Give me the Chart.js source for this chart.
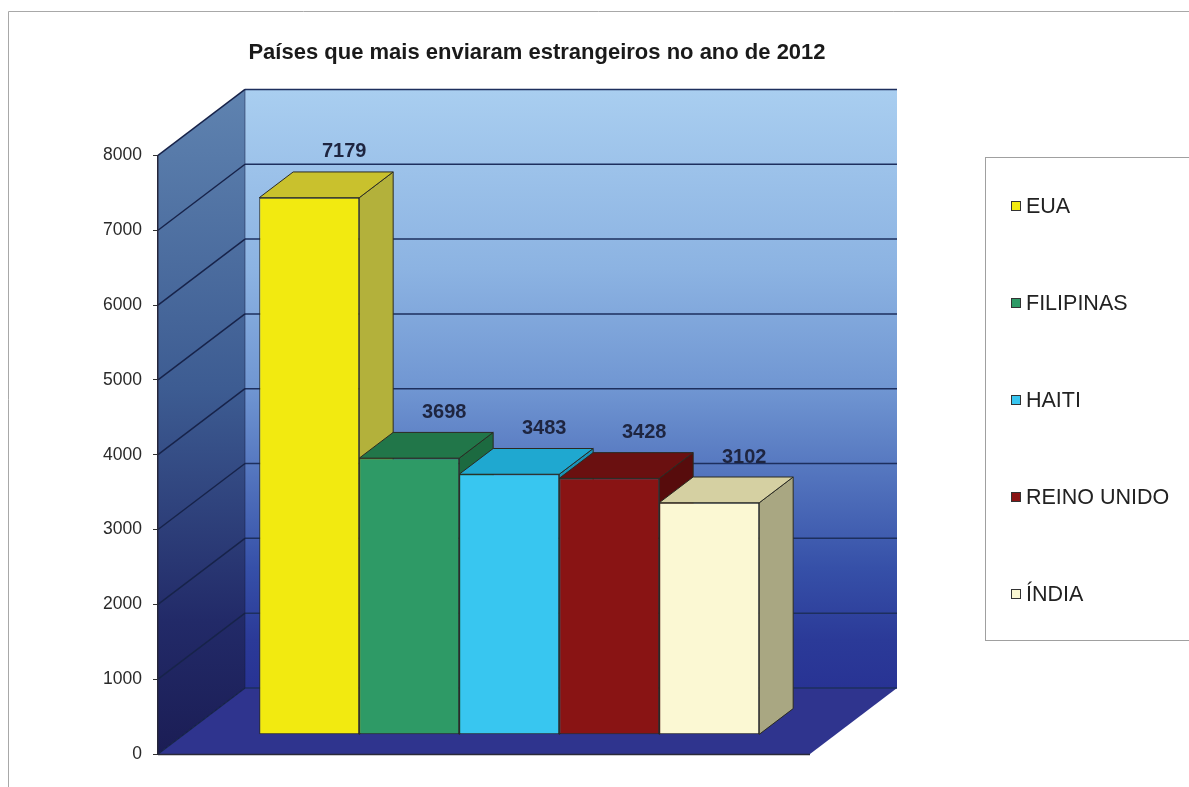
<!DOCTYPE html>
<html>
<head>
<meta charset="utf-8">
<style>
  body { margin: 0; background: #fff; }
  #wrap { width: 1189px; height: 787px; }
</style>
</head>
<body>
<div id="wrap"><canvas id="chart" width="1189" height="787"></canvas></div>
<script src="https://cdn.jsdelivr.net/npm/chart.js"></script>
<script>
const titleText = 'Países que mais enviaram estrangeiros no ano de 2012';
const countries = ['EUA', 'FILIPINAS', 'HAITI', 'REINO UNIDO', 'ÍNDIA'];
const values = [7179, 3698, 3483, 3428, 3102];
const frontColors = ['#f2ea10', '#2e9a66', '#38c6f0', '#891414', '#fbf8d3'];
const topColors = ['#c9c12d', '#217649', '#1fa8d0', '#6a1010', '#d5d0a2'];
const sideColors = ['#b3b13b', '#1c6a40', '#1a93b8', '#570c0c', '#a9a782'];
const yMin = 0, yMax = 8000, yStep = 1000;

// 3d look: how far the back wall is pushed, and where the bars sit in depth
const WALL = { dx: 87, dy: -66 };
const BAR_FRONT = 0.29, BAR_BACK = 0.68;
const FONT = "'Liberation Sans', Arial, sans-serif";

function poly(ctx, pts, fill, stroke) {
  ctx.beginPath();
  ctx.moveTo(pts[0][0], pts[0][1]);
  for (let i = 1; i < pts.length; i++) ctx.lineTo(pts[i][0], pts[i][1]);
  ctx.closePath();
  if (fill) { ctx.fillStyle = fill; ctx.fill(); }
  if (stroke) { ctx.strokeStyle = stroke; ctx.lineWidth = 1; ctx.stroke(); }
}

const threeD = {
  id: 'threeD',
  beforeDraw(chart) {
    const ctx = chart.ctx;
    const { left, right } = chart.chartArea;
    const y = chart.scales.y;
    const top = y.getPixelForValue(yMax), bottom = y.getPixelForValue(yMin);
    const dx = WALL.dx, dy = WALL.dy;
    ctx.save();
    // page frame
    ctx.strokeStyle = '#a8a8a8';
    ctx.lineWidth = 1;
    ctx.beginPath();
    ctx.moveTo(8.5, 787); ctx.lineTo(8.5, 11.5); ctx.lineTo(1189, 11.5);
    ctx.stroke();

    // back wall
    let g = ctx.createLinearGradient(0, top + dy, 0, bottom + dy);
    g.addColorStop(0, '#a9cef0');
    g.addColorStop(0.3, '#8cb3e2');
    g.addColorStop(0.5, '#7096d2');
    g.addColorStop(0.65, '#5273bd');
    g.addColorStop(0.8, '#3650a8');
    g.addColorStop(0.92, '#2b3a98');
    g.addColorStop(1, '#283394');
    ctx.fillStyle = g;
    ctx.fillRect(left + dx, top + dy, right - left, bottom - top);

    // left wall
    g = ctx.createLinearGradient(0, top + dy, 0, bottom);
    g.addColorStop(0, '#5f83b0');
    g.addColorStop(0.45, '#3d5c92');
    g.addColorStop(0.8, '#222a68');
    g.addColorStop(1, '#1b1d55');
    poly(ctx, [[left, top], [left + dx, top + dy], [left + dx, bottom + dy], [left, bottom]], g);

    // floor
    poly(ctx, [[left, bottom], [left + dx, bottom + dy], [right + dx, bottom + dy], [right, bottom]], '#2f348e');

    // grid lines on both walls
    ctx.lineWidth = 1.5;
    y.ticks.forEach(t => {
      const py = y.getPixelForValue(t.value);
      ctx.strokeStyle = '#17234a';
      ctx.beginPath();
      ctx.moveTo(left, py); ctx.lineTo(left + dx, py + dy);
      ctx.stroke();
      ctx.strokeStyle = '#1d2f5e';
      ctx.beginPath();
      ctx.moveTo(left + dx, py + dy); ctx.lineTo(right + dx, py + dy);
      ctx.stroke();
    });
    ctx.strokeStyle = 'rgba(20,30,70,0.5)';
    ctx.lineWidth = 1;
    ctx.beginPath();
    ctx.moveTo(left + dx, top + dy); ctx.lineTo(left + dx, bottom + dy);
    ctx.stroke();

    // front edge of floor
    ctx.strokeStyle = '#2a2a3a';
    ctx.lineWidth = 1.5;
    ctx.beginPath();
    ctx.moveTo(left, bottom + 0.5); ctx.lineTo(right, bottom + 0.5);
    ctx.stroke();
    ctx.restore();
  },
  beforeDatasetsDraw(chart) {
    const ctx = chart.ctx;
    const fx = WALL.dx * BAR_FRONT, fy = WALL.dy * BAR_FRONT;
    const ddx = WALL.dx * (BAR_BACK - BAR_FRONT), ddy = WALL.dy * (BAR_BACK - BAR_FRONT);
    ctx.save();
    chart.data.datasets.forEach((ds, i) => {
      const bar = chart.getDatasetMeta(i).data[0];
      const x0 = bar.x - bar.width / 2 + fx, x1 = bar.x + bar.width / 2 + fx;
      const yt = bar.y + fy, yb = bar.base + fy;
      poly(ctx, [[x1, yt], [x1 + ddx, yt + ddy], [x1 + ddx, yb + ddy], [x1, yb]], sideColors[i], '#2b2b22');
      poly(ctx, [[x0, yt], [x0 + ddx, yt + ddy], [x1 + ddx, yt + ddy], [x1, yt]], topColors[i], '#2b2b22');
    });
    ctx.restore();
  },
  beforeDatasetDraw(chart) {
    chart.ctx.save();
    chart.ctx.translate(WALL.dx * BAR_FRONT, WALL.dy * BAR_FRONT);
  },
  afterDatasetDraw(chart) {
    chart.ctx.restore();
  },
  afterDatasetsDraw(chart) {
    const ctx = chart.ctx;
    ctx.save();
    ctx.font = 'bold 20px ' + FONT;
    ctx.fillStyle = '#1e2540';
    ctx.textAlign = 'center';
    ctx.textBaseline = 'middle';
    chart.data.datasets.forEach((ds, i) => {
      const bar = chart.getDatasetMeta(i).data[0];
      const lx = bar.x + WALL.dx * BAR_BACK + 1;
      const ly = bar.y + WALL.dy * BAR_BACK - 20;
      ctx.fillText(String(ds.data[0]), lx, ly);
    });
    ctx.restore();
  },
  afterDraw(chart) {
    const ctx = chart.ctx;
    ctx.save();
    ctx.strokeStyle = '#a0a0a0';
    ctx.lineWidth = 1;
    ctx.strokeRect(985.5, 157.5, 260, 483);
    ctx.font = '21.5px ' + FONT;
    ctx.textBaseline = 'middle';
    ctx.textAlign = 'left';
    chart.data.datasets.forEach((ds, i) => {
      const cy = 206 + i * 97;
      ctx.fillStyle = ds.backgroundColor;
      ctx.fillRect(1011, cy - 5, 10, 10);
      ctx.strokeStyle = '#333';
      ctx.strokeRect(1011.5, cy - 4.5, 9, 9);
      ctx.fillStyle = '#222';
      ctx.fillText(ds.label, 1026, cy + 1);
    });
    ctx.restore();
  }
};

const datasets = countries.map((name, i) => ({
  label: name,
  data: [values[i]],
  backgroundColor: frontColors[i],
  borderColor: '#2b2b22',
  borderWidth: 1,
  borderSkipped: false,
  clip: false,
  categoryPercentage: 500 / 652,
  barPercentage: 1
}));

const ctx = document.getElementById('chart').getContext('2d');
const chart = new Chart(ctx, {
  type: 'bar',
  data: { labels: [''], datasets: datasets },
  options: {
    responsive: false,
    animation: false,
    layout: { padding: { left: 0, right: 115, top: 0, bottom: 33 } },
    scales: {
      x: { display: false },
      y: {
        min: yMin,
        max: yMax,
        ticks: {
          stepSize: yStep,
          color: '#2a2a2a',
          padding: 11,
          font: { family: FONT, size: 17.5 },
          callback: v => String(v)
        },
        grid: { drawOnChartArea: false, tickLength: 5, color: '#333' },
        border: { display: true, color: '#26263a', width: 1.5 },
        afterFit(s) { s.width = 158; }
      },
      spacer: {
        type: 'linear',
        position: 'right',
        display: true,
        ticks: { display: false },
        grid: { display: false },
        border: { display: false },
        afterFit(s) { s.width = 264; }
      }
    },
    plugins: {
      legend: { display: false },
      tooltip: { enabled: false },
      title: {
        display: true,
        text: titleText,
        color: '#1a1a1a',
        font: { family: FONT, size: 22, weight: 'bold' },
        padding: { top: 40, bottom: 89 }
      }
    }
  },
  plugins: [threeD]
});
</script>
</body>
</html>
